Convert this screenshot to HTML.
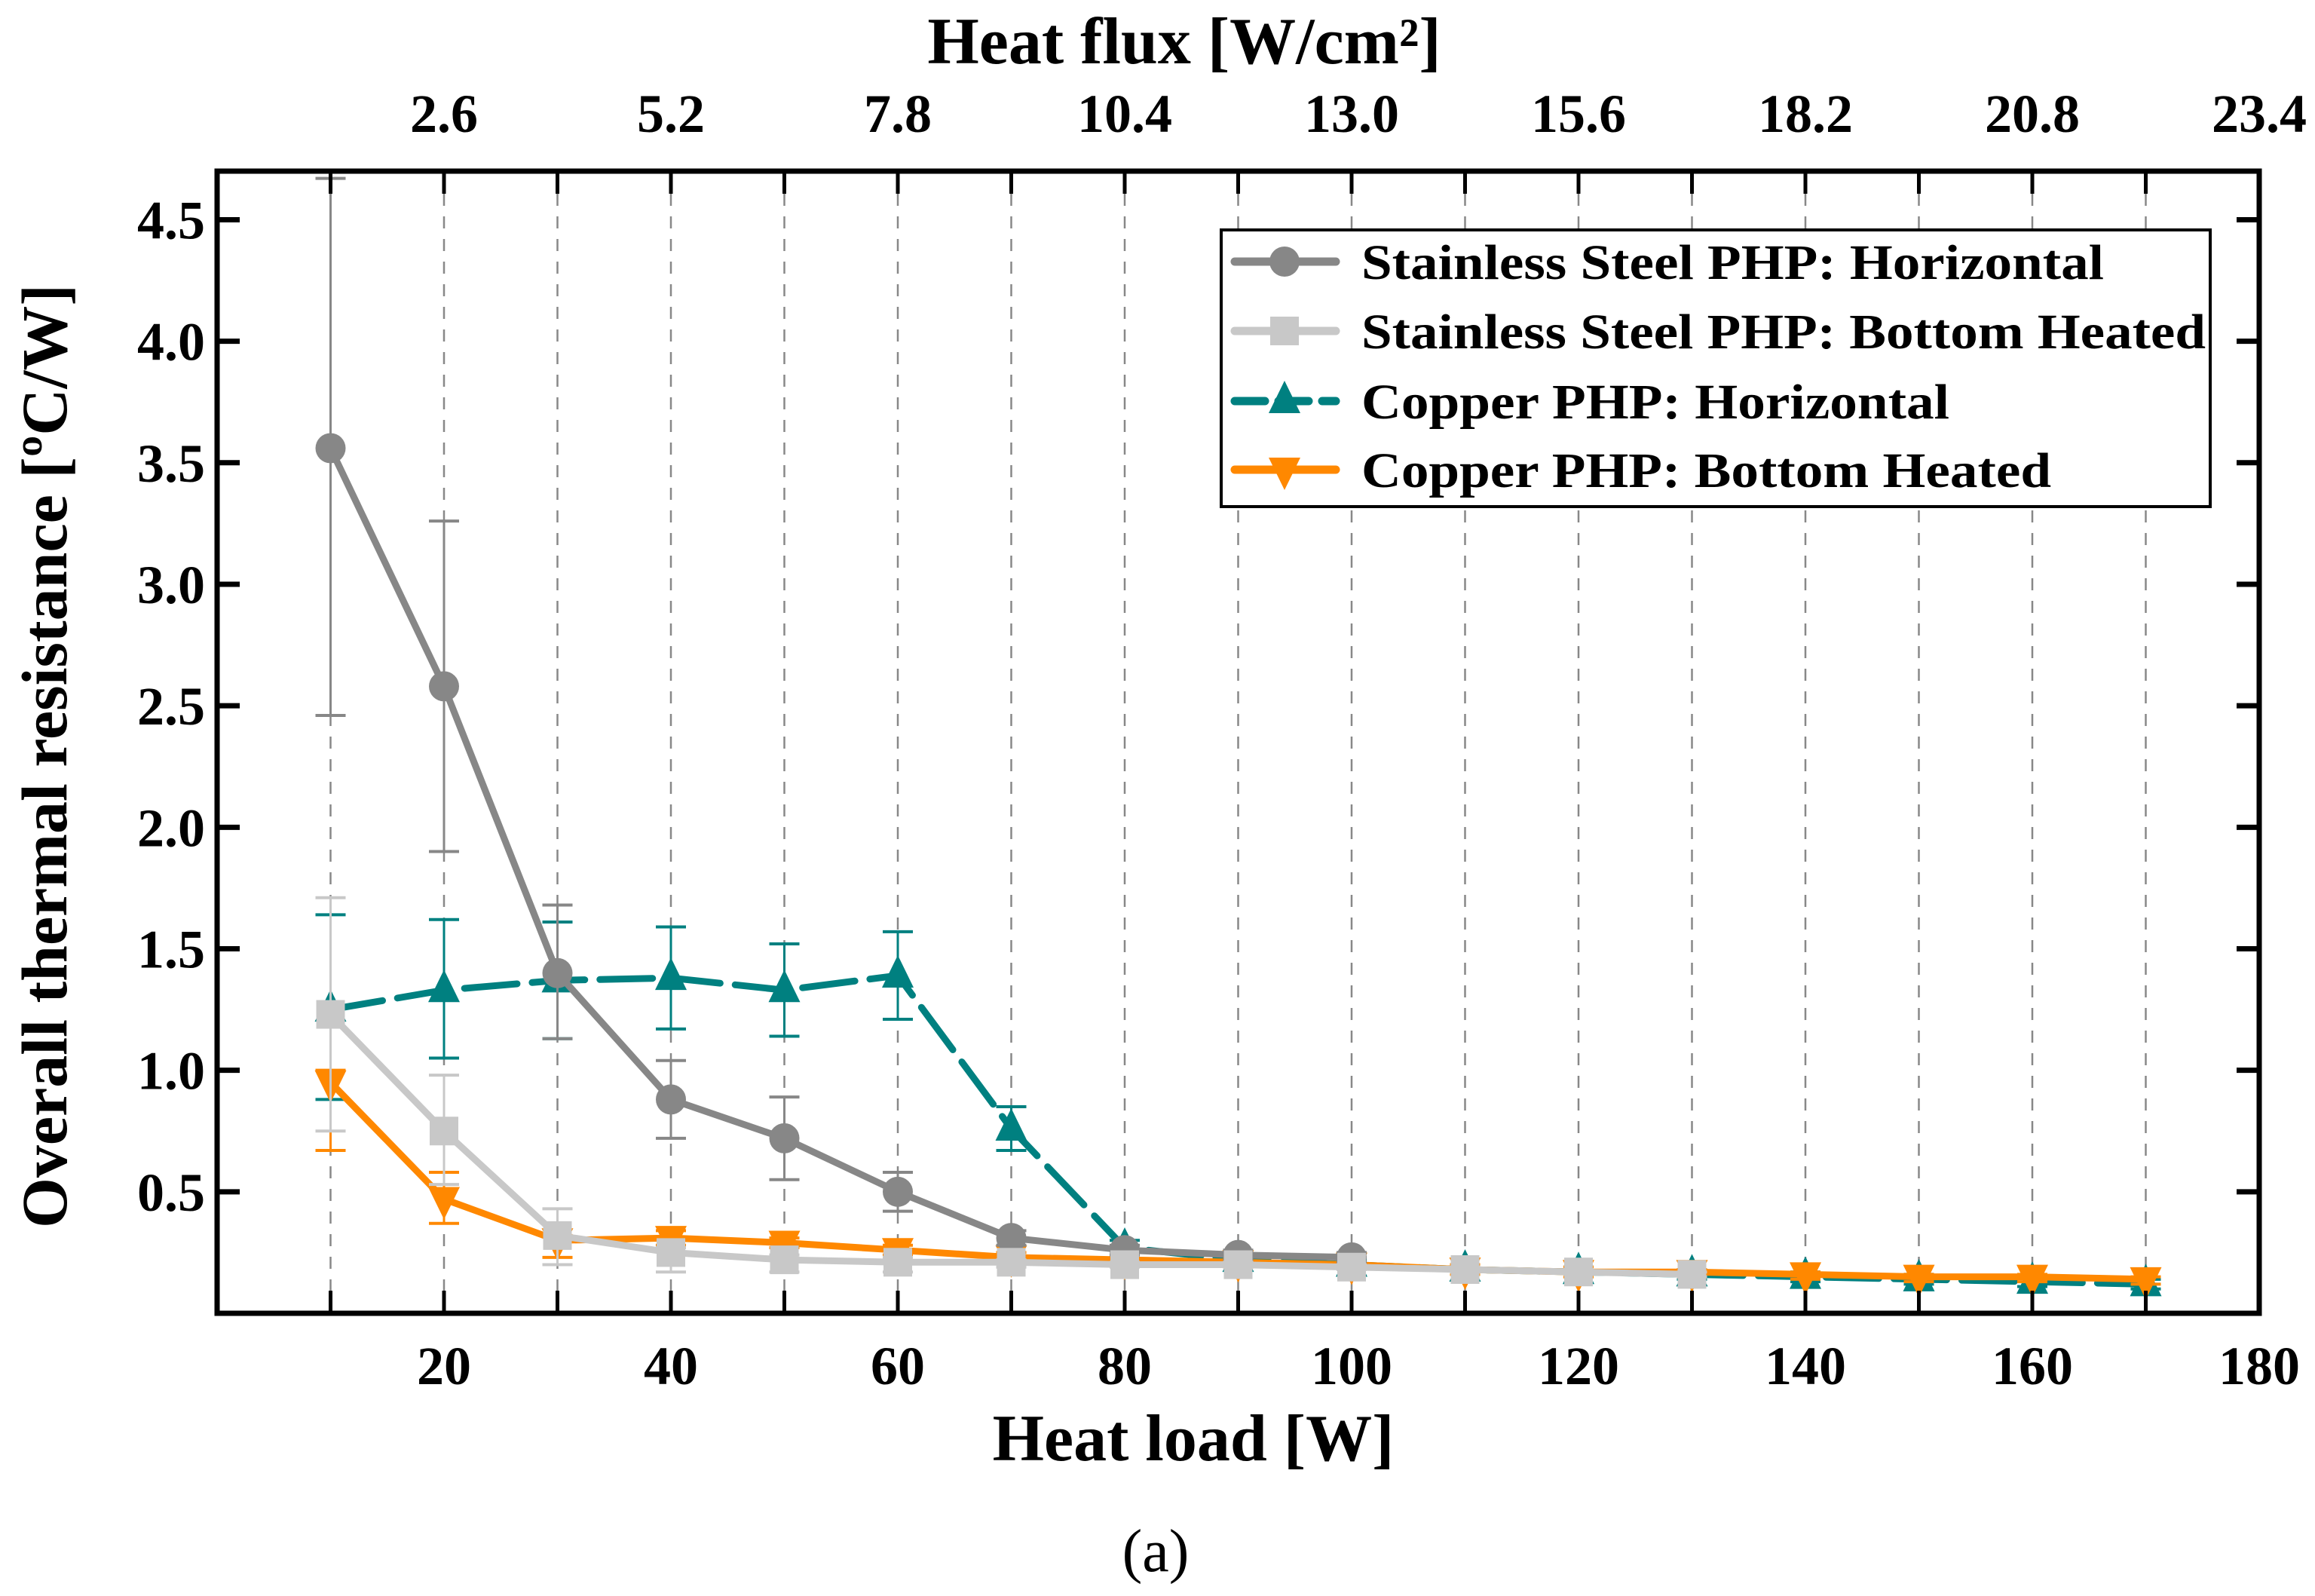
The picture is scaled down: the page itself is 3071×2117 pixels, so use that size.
<!DOCTYPE html>
<html><head><meta charset="utf-8"><style>
html,body{margin:0;padding:0;background:#fff;}
svg{display:block;font-family:"Liberation Serif",serif;font-weight:bold;}
</style></head><body>
<svg id="chart" width="3071" height="2117" viewBox="0 0 3071 2117" xmlns="http://www.w3.org/2000/svg">
<g id="grid"></g>
<g id="series"></g>
<g id="axes"></g>
<g id="legend"></g>
<text x="1533" y="2084" font-size="80" font-weight="normal" text-anchor="middle">(a)</text>
</svg>
<script>
const xCats = [10,20,30,40,50,60,70,80,90,100,110,120,130,140,150,160,170];
const xTickLabels = [20,40,60,80,100,120,140,160,180];
const topTickLabels = ["2.6","5.2","7.8","10.4","13.0","15.6","18.2","20.8","23.4"];
const yTickLabels = ["0.5","1.0","1.5","2.0","2.5","3.0","3.5","4.0","4.5"];
const ssHorizontal = [3.56,2.58,1.40,0.88,0.72,0.50,0.31,0.26,0.24,0.23];
const ssHorizontalHi = [4.67,3.26,1.68,1.04,0.89,0.58,0.34,0.28,0.26,0.25];
const ssHorizontalLo = [2.46,1.90,1.13,0.72,0.55,0.42,0.28,0.24,0.22,0.21];
const ssBottom = [1.23,0.75,0.32,0.25,0.22,0.21,0.21,0.20,0.20,0.19,0.18,0.17,0.16];
const ssBottomHi = [1.71,0.98,0.43,0.27,0.24,0.23,0.22,0.21,0.21,0.20,0.19,0.18,0.17];
const ssBottomLo = [0.75,0.53,0.20,0.17,0.17,0.17,0.19,0.19,0.19,0.18,0.17,0.16,0.15];
const cuHorizontal = [1.25,1.33,1.37,1.38,1.33,1.39,0.76,0.27,0.22,0.20,0.18,0.17,0.16,0.15,0.14,0.13,0.12];
const cuHorizontalHi = [1.64,1.62,1.61,1.59,1.52,1.57,0.85,0.30,0.25,0.22,0.20,0.19,0.18,0.17,0.16,0.15,0.14];
const cuHorizontalLo = [0.88,1.05,1.13,1.17,1.14,1.21,0.67,0.24,0.20,0.18,0.16,0.15,0.14,0.13,0.12,0.11,0.10];
const cuBottom = [0.95,0.47,0.30,0.31,0.29,0.26,0.23,0.22,0.21,0.20,0.18,0.17,0.17,0.16,0.15,0.15,0.14];
const cuBottomHi = [1.00,0.58,0.32,0.34,0.31,0.28,0.25,0.24,0.23,0.21,0.20,0.19,0.18,0.17,0.16,0.16,0.15];
const cuBottomLo = [0.67,0.37,0.23,0.28,0.27,0.24,0.21,0.20,0.19,0.18,0.16,0.15,0.15,0.14,0.13,0.13,0.12];

const NS="http://www.w3.org/2000/svg";
const L=288,R=2997,T=227,B=1742;
const X0=0,X1=180,Y0=0,Y1=4.7;
function sx(v){return L+(v-X0)/(X1-X0)*(R-L);}
function sy(v){return B-(v-Y0)/(Y1-Y0)*(B-T);}
function mk(tag,attrs,parent){const e=document.createElementNS(NS,tag);for(const k in attrs)e.setAttribute(k,attrs[k]);parent.appendChild(e);return e;}
const grid=document.getElementById('grid'),axes=document.getElementById('axes'),ser=document.getElementById('series'),leg=document.getElementById('legend');

xCats.forEach(v=>{
  const g=mk('line',{x1:sx(v),x2:sx(v),y1:T,y2:B,stroke:'#888','stroke-width':2.5,'stroke-dasharray':'16 14'},grid);
  
  
});
const fr=mk('rect',{x:L,y:T,width:R-L,height:B-T,fill:'none',stroke:'#000','stroke-width':7},axes);


for(let v=10;v<180;v+=10){
  mk('line',{x1:sx(v),x2:sx(v),y1:B,y2:B-30,stroke:'#000','stroke-width':5},axes);
  mk('line',{x1:sx(v),x2:sx(v),y1:T,y2:T+30,stroke:'#000','stroke-width':5},axes);
}
xTickLabels.forEach((v,i)=>{
  const t=mk('text',{x:sx(v),y:1836,'font-size':72,'text-anchor':'middle'},axes);
  t.textContent=v;
  
  
  const t2=mk('text',{x:sx(v),y:175,'font-size':72,'text-anchor':'middle'},axes);
  t2.textContent=topTickLabels[i];
  
  
});
yTickLabels.forEach(s=>{
  const v=parseFloat(s);
  mk('line',{x1:L,x2:L+30,y1:sy(v),y2:sy(v),stroke:'#000','stroke-width':7},axes);
  mk('line',{x1:R,x2:R-30,y1:sy(v),y2:sy(v),stroke:'#000','stroke-width':7},axes);
  const t=mk('text',{x:272,y:sy(v)+25,'font-size':72,'text-anchor':'end'},axes);
  t.textContent=s;
  
  
});
let t=mk('text',{x:1583,y:1937,'font-size':88,'text-anchor':'middle'},axes);
t.textContent='Heat load [W]';


t=mk('text',{x:1571,y:84,'font-size':88,'text-anchor':'middle'},axes);
t.textContent='Heat flux [W/cm²]';


t=mk('text',{x:0,y:0,'font-size':86,'text-anchor':'middle',transform:'translate(88,1003) rotate(-90)'},axes);
t.textContent='Overall thermal resistance [ºC/W]';



function marker(type,cx,cy,color,parent){
  let m;
  if(type==='circle') m=mk('circle',{cx:cx,cy:cy,r:20,fill:color},parent);
  else if(type==='square') m=mk('rect',{x:cx-19,y:cy-19,width:38,height:38,fill:color},parent);
  else if(type==='up') m=mk('polygon',{points:`${cx},${cy-27} ${cx-21},${cy+16} ${cx+21},${cy+16}`,fill:color},parent);
  else m=mk('polygon',{points:`${cx},${cy+27} ${cx-21},${cy-16} ${cx+21},${cy-16}`,fill:color},parent);
  return m;
}
function drawSeries(name,vals,hi,lo,color,type,dash){
  const g=mk('g',{},ser);
  
  
  vals.forEach((v,i)=>{
    const x=sx(xCats[i]);
    mk('line',{x1:x,x2:x,y1:sy(hi[i]),y2:sy(lo[i]),stroke:color,'stroke-width':3},g);
    mk('line',{x1:x-20,x2:x+20,y1:sy(hi[i]),y2:sy(hi[i]),stroke:color,'stroke-width':4},g);
    mk('line',{x1:x-20,x2:x+20,y1:sy(lo[i]),y2:sy(lo[i]),stroke:color,'stroke-width':4},g);
  });
  const pts=vals.map((v,i)=>sx(xCats[i])+','+sy(v)).join(' ');
  const pl=mk('polyline',{points:pts,fill:'none',stroke:color,'stroke-width':9,'stroke-linejoin':'round','stroke-linecap':'round'},g);
  if(dash) pl.setAttribute('stroke-dasharray',dash);
  
  
  vals.forEach((v,i)=>{
    const m=marker(type,sx(xCats[i]),sy(v),color,g);
    
    
  });
}
drawSeries('copper-horizontal',cuHorizontal,cuHorizontalHi,cuHorizontalLo,'#008080','up','70 20');
drawSeries('copper-bottom-heated',cuBottom,cuBottomHi,cuBottomLo,'#ff8800','down',null);
drawSeries('ss-horizontal',ssHorizontal,ssHorizontalHi,ssHorizontalLo,'#878787','circle',null);
drawSeries('ss-bottom-heated',ssBottom,ssBottomHi,ssBottomLo,'#c8c8c8','square',null);

const lb=mk('rect',{x:1620,y:305,width:1312,height:367,fill:'#fff',stroke:'#000','stroke-width':4},leg);


const legItems=[['Stainless Steel PHP: Horizontal','#878787','circle',347,985],
['Stainless Steel PHP: Bottom Heated','#c8c8c8','square',439,1120],
['Copper PHP: Horizontal','#008080','up',532,780],
['Copper PHP: Bottom Heated','#ff8800','down',623,915]];
legItems.forEach(it=>{
  const g=mk('g',{},leg);
  
  
  mk('line',{x1:1638,x2:1772,y1:it[3],y2:it[3],stroke:it[1],'stroke-width':11,'stroke-linecap':'round','stroke-dasharray':it[2]==='up'?'40 18':'none'},g);
  marker(it[2],1704,it[3],it[1],g);
  const tx=mk('text',{x:1806,y:it[3]+23,'font-size':66,textLength:it[4],lengthAdjust:'spacingAndGlyphs'},g);
  tx.textContent=it[0];
});
</script>
</body></html>
